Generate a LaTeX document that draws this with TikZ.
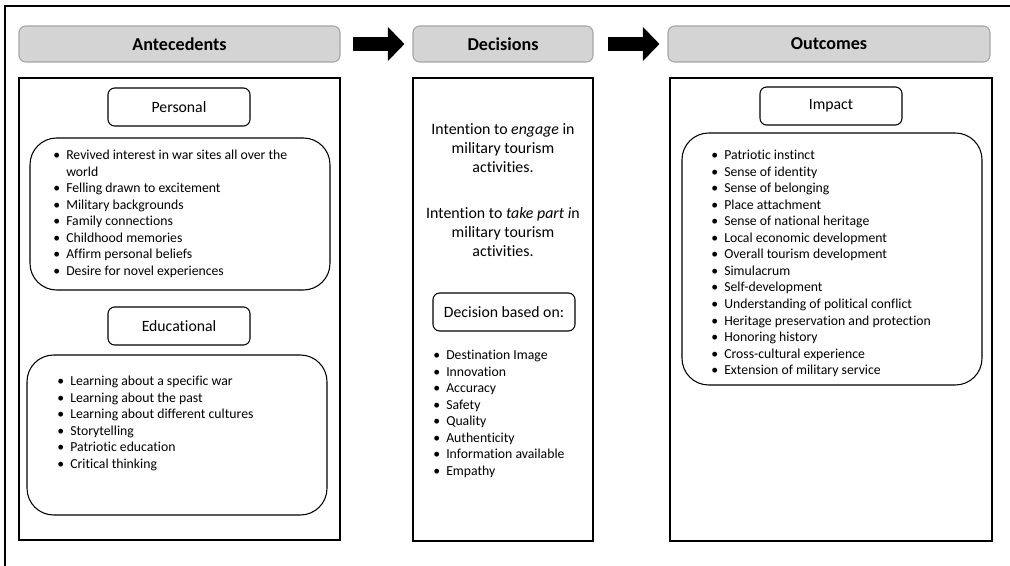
\documentclass[tikz,border=0pt]{standalone}
\usepackage{fontspec}
\setmainfont{Carlito}[Ligatures=NoCommon]
\usepackage{tikz}
\usetikzlibrary{arrows.meta}

\definecolor{headgray}{RGB}{212,212,212}
\definecolor{headline}{RGB}{165,165,165}

\newcommand{\itm}{\makebox[9.75pt][l]{\textbullet}}
\newcommand{\listfont}{\fontsize{10.3}{12.4}\selectfont}

\tikzset{
  header/.style={draw=headline, fill=headgray, rounded corners=5pt, line width=0.8pt,
    minimum height=27pt, font=\fontsize{13.6}{16}\selectfont\bfseries},
  catbox/.style={draw, rounded corners=5pt, line width=0.8pt, minimum width=106.5pt,
    minimum height=28.5pt, font=\fontsize{11.8}{14}\selectfont},
  listbox/.style={draw, rounded corners=20pt, line width=0.8pt},
  column/.style={draw, line width=0.9pt},
  items/.style={anchor=north west, inner sep=0pt, align=left, font=\listfont},
  blockarrow/.style={line width=10pt, -{Triangle[length=12.5pt, width=25pt]}}
}

\begin{document}
\begin{tikzpicture}[x=0.75pt,y=0.75pt,yscale=-1,xscale=1]

\useasboundingbox (0,0) rectangle (1010,566);

% frame
\draw [line width=1.4pt] (5,566) -- (5,6) -- (1010,6);

% Headers
\node [header, minimum width=240.75pt] (hant) at (179.5,44) {Antecedents};
\node [header, minimum width=135pt] (hdec) at (503,44) {Decisions};
\node [header, minimum width=241.5pt] (hout) at (829,44) {Outcomes};

% Arrows
\draw [blockarrow] ([xshift=9pt]hant.east) -- ([xshift=-6pt]hdec.west);
\draw [blockarrow] ([xshift=10.5pt]hdec.east) -- ([xshift=-6pt]hout.west);

% Columns
\draw [column] (19,78) rectangle (340,540);
\draw [column] (413,78) rectangle (593,541);
\draw [column] (670,78) rectangle (992,541);

% Antecedents
\node [catbox] (pers) at (179,107) {Personal};
\draw [listbox] (30,138) rectangle (330,290);
\node [items] (perslist) at (53,150) {\itm Revived interest in war sites all over the\\
\hspace*{9.75pt}world\\
\itm Felling drawn to excitement\\
\itm Military backgrounds\\
\itm Family connections\\
\itm Childhood memories\\
\itm Affirm personal beliefs\\
\itm Desire for novel experiences};

\node [catbox] (educ) at (179,326) {Educational};
\draw [listbox] (27,355) rectangle (327,515);
\node [items] (educlist) at (57,376) {\itm Learning about a specific war\\
\itm Learning about the past\\
\itm Learning about different cultures\\
\itm Storytelling\\
\itm Patriotic education\\
\itm Critical thinking};

% Decisions
\node [align=center, font=\fontsize{11.9}{14.25}\selectfont] (engage) at (503,148)
  {Intention to \emph{engage} in\\ military tourism\\ activities.};
\node [align=center, font=\fontsize{11.9}{14.25}\selectfont] (takepart) at (503,232)
  {Intention to \emph{take part i}n\\ military tourism\\ activities.};
\node [catbox, minimum width=106.5pt] (basis) at (504,312) {Decision based on:};
\node [items] (basislist) at (433,350) {\itm Destination Image\\
\itm Innovation\\
\itm Accuracy\\
\itm Safety\\
\itm Quality\\
\itm Authenticity\\
\itm Information available\\
\itm Empathy};

% Outcomes
\node [catbox] (impact) at (831,106) {Impact};
\draw [listbox] (682,133) rectangle (982,385);
\node [items] (impactlist) at (711,150) {\itm Patriotic instinct\\
\itm Sense of identity\\
\itm Sense of belonging\\
\itm Place attachment\\
\itm Sense of national heritage\\
\itm Local economic development\\
\itm Overall tourism development\\
\itm Simulacrum\\
\itm Self-development\\
\itm Understanding of political conflict\\
\itm Heritage preservation and protection\\
\itm Honoring history\\
\itm Cross-cultural experience\\
\itm Extension of military service};

\end{tikzpicture}
\end{document}
